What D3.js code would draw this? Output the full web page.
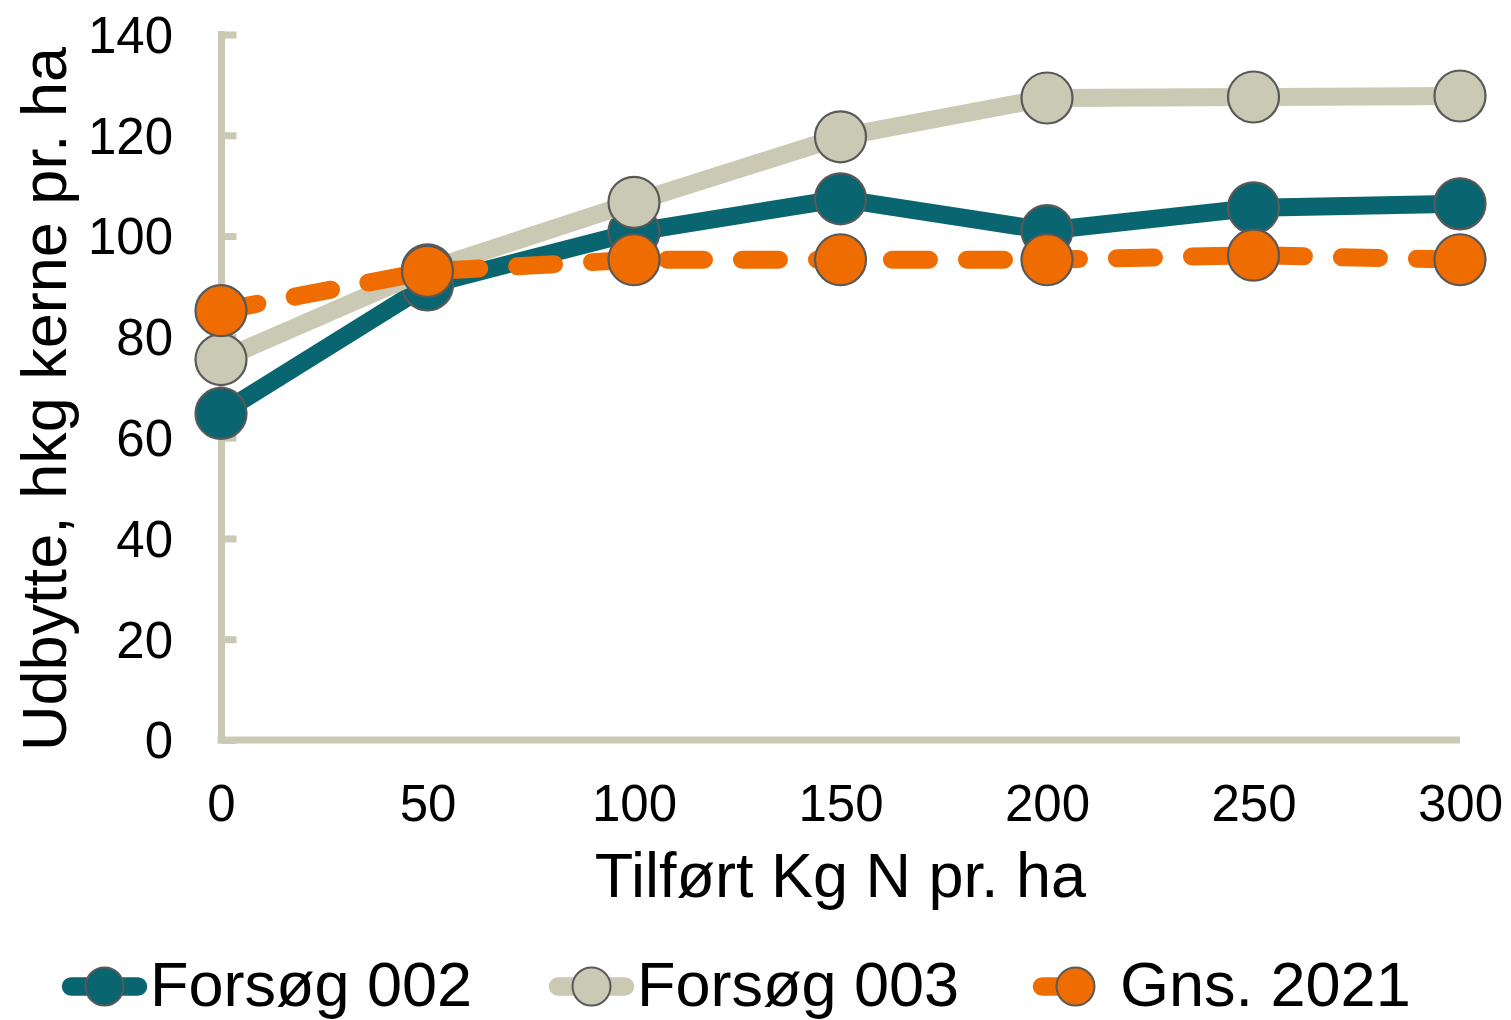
<!DOCTYPE html>
<html><head><meta charset="utf-8">
<script src="https://cdn.jsdelivr.net/npm/d3@7"></script>
<style>html,body{margin:0;padding:0;background:#fff;}svg{display:block;font-family:"Liberation Sans",Arial,sans-serif;}</style>
</head><body>
<svg id="chart" width="1511" height="1020"></svg>
<script>
const xValues = [0, 50, 100, 150, 200, 250, 300];
const yTicks = [0, 20, 40, 60, 80, 100, 120, 140];
const seriesNames = ["Forsøg 002", "Forsøg 003", "Gns. 2021"];
const forsog002 = [64.8, 90.3, 100.8, 107.4, 101.1, 105.6, 106.4];
const forsog003 = [75.5, 93.3, 106.7, 119.7, 127.4, 127.6, 127.8];
const gns2021 = [85.2, 93.0, 95.3, 95.3, 95.3, 96.2, 95.3];
const xTitle = "Tilført Kg N pr. ha";
const yTitle = "Udbytte, hkg kerne pr. ha";

const colors = ["#09656F", "#C9C9B4", "#EF6C00"];
const dashes = [null, null, "37,38"];
const seriesData = [forsog002, forsog003, gns2021];

const svg = d3.select("#chart");
const x = d3.scaleLinear().domain([0, 300]).range([221, 1460]);
const y = d3.scaleLinear().domain([0, 140]).range([740, 34.5]);
const axisColor = "#C9C9B4";

// Y axis
const yAxis = svg.append("g").attr("transform", "translate(221.5,0)")
  .call(d3.axisRight(y).tickValues(yTicks).tickSize(15).tickFormat(""));
yAxis.select(".domain").remove();
yAxis.selectAll(".tick line").attr("stroke", axisColor).attr("stroke-width", 7);
svg.append("line").attr("x1", 221.5).attr("x2", 221.5).attr("y1", y(140) - 3.5).attr("y2", 743.5)
  .attr("stroke", axisColor).attr("stroke-width", 7);
// y tick labels
svg.append("g").selectAll("text").data(yTicks).join("text")
  .attr("x", 173).attr("y", d => y(d)).attr("dy", "0.36em")
  .attr("text-anchor", "end").attr("font-size", 51).attr("fill", "#000").text(d => d);

// X axis
const xAxis = svg.append("g").attr("transform", "translate(0,740)")
  .call(d3.axisBottom(x).tickValues(xValues).tickSize(0).tickPadding(0));
xAxis.select(".domain").attr("stroke", axisColor).attr("stroke-width", 7)
  .attr("d", `M${x(0) - 3.5},0H${x(300)}`);
xAxis.selectAll(".tick text").attr("y", 63).attr("dy", "0.36em").attr("font-size", 51)
  .attr("fill", "#000").attr("font-family", "Liberation Sans, Arial, sans-serif");

// Titles
svg.append("text").attr("x", 840.5).attr("y", 897).attr("text-anchor", "middle")
  .attr("font-size", 63).attr("fill", "#000").text(xTitle);
svg.append("text").attr("transform", "translate(66,399) rotate(-90)").attr("text-anchor", "middle")
  .attr("font-size", 63).attr("fill", "#000").text(yTitle);

// Series
const line = d3.line().x((d, i) => x(xValues[i])).y(d => y(d));
seriesData.forEach((vals, s) => {
  const g = svg.append("g");
  g.append("path").attr("d", line(vals)).attr("fill", "none")
    .attr("stroke", colors[s]).attr("stroke-width", 18)
    .attr("stroke-linecap", dashes[s] ? "round" : "butt")
    .attr("stroke-linejoin", "round")
    .attr("stroke-dasharray", dashes[s]);
  g.selectAll("circle").data(vals).join("circle")
    .attr("cx", (d, i) => x(xValues[i])).attr("cy", d => y(d)).attr("r", 25.5)
    .attr("fill", colors[s]).attr("stroke", "#595959").attr("stroke-width", 2.2);
});

// Legend
const legendStarts = [62, 549, 1033];
const ly = 986.5;
legendStarts.forEach((sx, s) => {
  const g = svg.append("g");
  const x2 = dashes[s] ? sx + 35 : sx + 76;
  g.append("line").attr("x1", sx + 9).attr("x2", x2).attr("y1", ly).attr("y2", ly)
    .attr("stroke", colors[s]).attr("stroke-width", 18.5).attr("stroke-linecap", "round");
  g.append("circle").attr("cx", sx + 42.5).attr("cy", ly).attr("r", 19)
    .attr("fill", colors[s]).attr("stroke", "#595959").attr("stroke-width", 2);
  g.append("text").attr("x", sx + (dashes[s] ? 87 : 88)).attr("y", 1005.5).attr("font-size", 63).attr("fill", "#000")
    .text(seriesNames[s]);
});
</script>
</body></html>
